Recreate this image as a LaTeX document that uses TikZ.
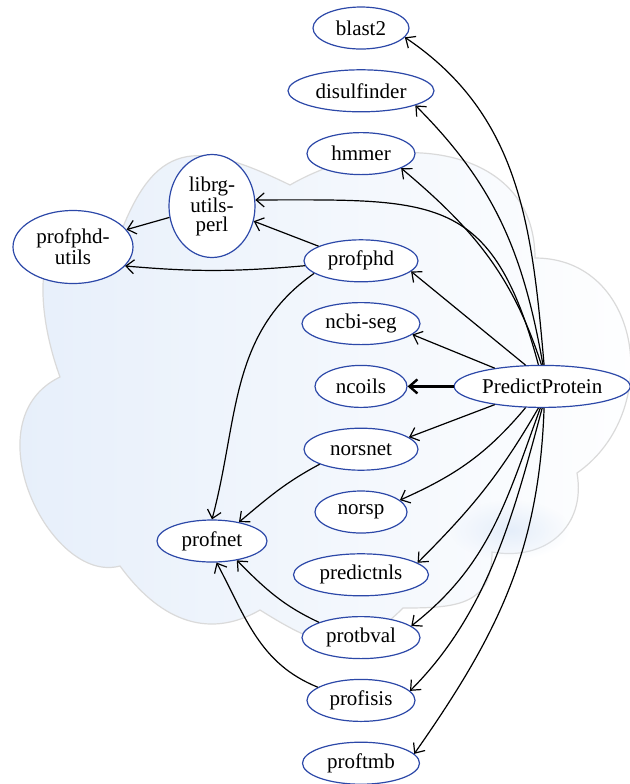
\documentclass[tikz,border=0pt]{standalone}
\usepackage{fontspec}
\setmainfont{Liberation Serif}
\usetikzlibrary{arrows.meta, positioning, shapes.geometric, fadings}

\definecolor{nodeblue}{RGB}{44,72,168}
\definecolor{cloudblue}{RGB}{229,238,250}
\definecolor{cloudline}{RGB}{218,218,218}
\tikzfading[name=blobfade, inner color=transparent!0, outer color=transparent!100]

\begin{document}
\begin{tikzpicture}[
    x=0.5pt, y=0.5pt,
    pkg/.style={
        draw=nodeblue,
        ellipse,
        line width=0.6pt,
        fill=white,
        inner sep=0pt,
        minimum height=21pt,
        align=center,
        font=\fontsize{10.5}{9.5}\selectfont
    },
    dep/.style={
        -{Straight Barb[length=4pt,width=7pt]},
        line width=0.6pt
    },
    node distance=9.8pt
]
\useasboundingbox (0,0) rectangle (629,-784);

% Cloud
\draw[cloudline, line width=0.6pt, left color=cloudblue, right color=white]
    (290,-185) to[out=30, in=90, looseness=1.15] (535,-258)
    to[out=0, in=35, looseness=1.25] (577,-473)
    to[out=280, in=-10, looseness=1.2] (492,-552)
    to[out=270, in=0, looseness=1.3] (403,-608)
    to[out=225, in=-32, looseness=1.3] (260,-610)
    to[out=210, in=-54, looseness=1.1] (120,-566)
    .. controls (50,-585) and (-30,-420) .. (60,-377)
    to[out=110, in=150, looseness=1.6] (118,-240)
    to[out=70, in=154, looseness=1.5] (290,-185) -- cycle;
\fill[cloudblue, path fading=blobfade] (510,-530) ellipse (60 and 30);

% Column
\node[pkg, minimum width=48pt] (blast2) at (361,-28) {blast2};
\node[pkg, minimum width=73pt, below=of blast2] (disulfinder) {disulfinder};
\node[pkg, minimum width=54pt, below=of disulfinder] (hmmer) {hmmer};
\node[pkg, minimum width=57pt, below=32pt of hmmer] (profphd) {profphd};
\node[pkg, minimum width=59pt, below=of profphd] (ncbiseg) {ncbi-seg};
\node[pkg, minimum width=46pt, below=of ncbiseg] (ncoils) {ncoils};
\node[pkg, minimum width=57pt, below=of ncoils] (norsnet) {norsnet};
\node[pkg, minimum width=46pt, below=of norsnet] (norsp) {norsp};
\node[pkg, minimum width=67.5pt, below=of norsp] (predictnls) {predictnls};
\node[pkg, minimum width=59pt, below=of predictnls] (protbval) {protbval};
\node[pkg, minimum width=54pt, below=of protbval] (profisis) {profisis};
\node[pkg, minimum width=58.5pt, below=of profisis] (proftmb) {proftmb};

% Root
\node[pkg, minimum width=88pt, right=23pt of ncoils] (predictprotein) {PredictProtein};

% Left side
\node[pkg, minimum width=43pt, minimum height=51.5pt] (librg) at (212,-206) {librg-\\utils-\\perl};
\node[pkg, minimum width=60pt, minimum height=36.5pt] (profphdutils) at (73,-247) {profphd-\\utils};
\node[pkg, minimum width=55pt] (profnet) at (212,-541) {profnet};

% From PredictProtein, upwards
\draw[dep] (predictprotein.85) to[out=95, in=-34] (blast2.-12);
\draw[dep] (predictprotein.88) to[out=100, in=-45] (disulfinder.-15);
\draw[dep] (predictprotein.92) to[out=108, in=-40] (hmmer.-20);
\draw[dep] (predictprotein.100) to[out=105, in=0, looseness=1.4] (librg.8);
\draw[dep] (predictprotein.128) -- (profphd.-12);
\draw[dep] (predictprotein.159) -- (ncbiseg.-12);
\draw[dep, line width=1.2pt] (predictprotein) -- (ncoils);
% downwards
\draw[dep] (predictprotein.201) -- (norsnet.14);
\draw[dep] (predictprotein.-128) to[out=230, in=24] (norsp.17);
\draw[dep] (predictprotein.-100) to[out=240, in=45] (predictnls.12);
\draw[dep] (predictprotein.-95) to[out=250, in=38] (protbval.13);
\draw[dep] (predictprotein.-90) to[out=255, in=45, looseness=0.9] (profisis.11);
\draw[dep] (predictprotein.-85) to[out=268, in=55] (proftmb.10);

% profphd
\draw[dep] (profphd.161) -- (librg.-20);
\draw[dep] (profphd.185) to[out=185, in=-5] (profphdutils.-20);
\draw[dep] (profphd.195) to[out=215, in=75] (profnet.north);
\draw[dep] (librg.195) -- (profphdutils.18);

% into profnet
\draw[dep] (norsnet.200) to[out=208, in=40] (profnet.35);
\draw[dep] (protbval.160) to[out=155, in=-45] (profnet.-38);
\draw[dep] (profisis.163) to[out=158, in=-62] (profnet.-78);

\end{tikzpicture}
\end{document}
